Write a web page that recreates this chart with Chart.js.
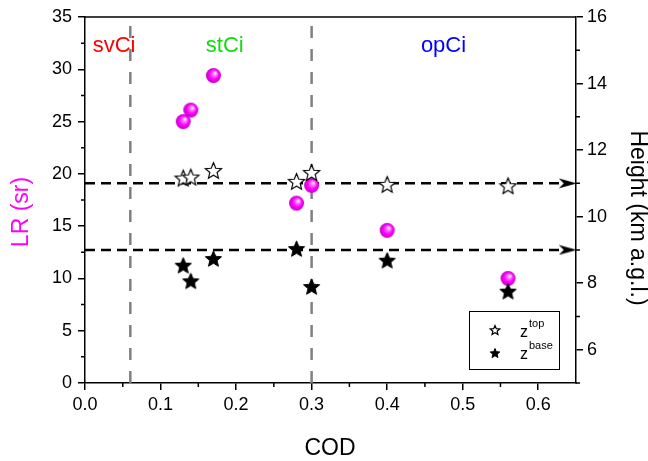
<!DOCTYPE html>
<html>
<head>
<meta charset="utf-8">
<script src="https://cdn.jsdelivr.net/npm/chart.js@4/dist/chart.umd.min.js"></script>
<style>
  body { margin: 0; background: #fff; }
  #wrap { width: 648px; height: 461px; }
</style>
</head>
<body>
<div id="wrap"><canvas id="chart"></canvas></div>
<script>
// Data
const codLR = [0.13, 0.14, 0.17, 0.28, 0.30, 0.40, 0.56];
const lrValues = [25.0, 26.1, 29.4, 17.2, 18.9, 14.6, 10.0];

const codTop = [0.13, 0.14, 0.17, 0.28, 0.30, 0.40, 0.56];
const zTop = [11.16, 11.19, 11.39, 11.06, 11.33, 10.97, 10.93];

const codBase = [0.13, 0.14, 0.17, 0.28, 0.30, 0.40, 0.56];
const zBase = [8.54, 8.07, 8.74, 9.04, 7.90, 8.69, 7.76];

// mean heights (dashed arrows) and class borders (grey dashes)
const meanHeights = [11.0, 9.0];
const classBorders = [0.06, 0.30];
const regionNames = ['svCi', 'stCi', 'opCi'];
const regionColors = ['#ff0000', '#11dd11', '#0000ff'];

// tick values
const xTicks = [0, 0.1, 0.2, 0.3, 0.4, 0.5, 0.6];
const xMinor = [0.05, 0.15, 0.25, 0.35, 0.45, 0.55];
const yTicks = [0, 5, 10, 15, 20, 25, 30, 35];
const yMinor = [2.5, 7.5, 12.5, 17.5, 22.5, 27.5, 32.5];
const y2Ticks = [6, 8, 10, 12, 14, 16];
const y2Minor = [5, 7, 9, 11, 13, 15];

const FONT = "'Liberation Sans', Arial, sans-serif";

// marker images
function makeCanvas(w, h) {
    const c = document.createElement('canvas');
    c.width = w; c.height = h;
    return c;
}
function starPath(ctx, cx, cy, R, r) {
    ctx.beginPath();
    for (let i = 0; i < 10; i++) {
        const a = -Math.PI / 2 + i * Math.PI / 5;
        const rad = i % 2 == 0 ? R : r;
        const px = cx + rad * Math.cos(a), py = cy + rad * Math.sin(a);
        if (i == 0) ctx.moveTo(px, py); else ctx.lineTo(px, py);
    }
    ctx.closePath();
}
function starImage(R, filled, lw) {
    const s = Math.ceil(R * 2 + 4);
    const c = makeCanvas(s, s);
    const ctx = c.getContext('2d');
    starPath(ctx, s / 2, s / 2 + R * 0.1, R, R * 0.45);
    ctx.fillStyle = filled ? '#000' : '#fff';
    ctx.fill();
    ctx.lineWidth = lw;
    ctx.lineJoin = 'miter';
    ctx.strokeStyle = '#000';
    ctx.stroke();
    return c;
}
function sphereImage(r) {
    const s = Math.ceil(r * 2 + 2);
    const c = makeCanvas(s, s);
    const ctx = c.getContext('2d');
    const cx = s / 2, cy = s / 2;
    const g = ctx.createRadialGradient(cx + r * 0.25, cy - r * 0.35, 0.5, cx, cy, r);
    g.addColorStop(0, '#fff0ff');
    g.addColorStop(0.25, '#ff70ff');
    g.addColorStop(0.6, '#ff00ff');
    g.addColorStop(1, '#c400c4');
    ctx.fillStyle = g;
    ctx.beginPath();
    ctx.arc(cx, cy, r, 0, Math.PI * 2);
    ctx.fill();
    return c;
}
function arrowImage() {
    const c = makeCanvas(18, 11);
    const ctx = c.getContext('2d');
    ctx.fillStyle = '#000';
    ctx.beginPath();
    ctx.moveTo(18, 5.5);
    ctx.lineTo(0, 0.5);
    ctx.lineTo(5, 5.5);
    ctx.lineTo(0, 10.5);
    ctx.closePath();
    ctx.fill();
    return c;
}
const openStar = starImage(8.5, false, 1.2);
const fullStar = starImage(8.5, true, 1);
const smallOpen = starImage(5, false, 1.2);
const smallFull = starImage(5, true, 1);
const ball = sphereImage(7.5);
const arrow = arrowImage();

function pts(xs, ys) {
    return xs.map((x, i) => ({ x: x, y: ys[i] }));
}

const datasets = [
    { label: 'zbase', data: pts(codBase, zBase), yAxisID: 'y2', pointStyle: fullStar, pointRadius: 8 },
    { label: 'ztop', data: pts(codTop, zTop), yAxisID: 'y2', pointStyle: openStar, pointRadius: 8 },
    { label: 'LR', data: pts(codLR, lrValues), yAxisID: 'y', pointStyle: ball, pointRadius: 8 }
];
meanHeights.forEach(h => {
    datasets.push({
        data: [{ x: 0, y: h }, { x: 0.639, y: h }], yAxisID: 'y2', showLine: true,
        borderColor: '#000', borderWidth: 2.5, borderDash: [10, 6],
        pointStyle: arrow, pointRadius: [0, 6]
    });
});
classBorders.forEach(c => {
    datasets.push({
        data: [{ x: c, y: 0 }, { x: c, y: 35 }], yAxisID: 'y', showLine: true,
        borderColor: '#808080', borderWidth: 2.5, borderDash: [12, 11], pointRadius: 0
    });
});

// labels, titles, legend, minor ticks and top border
const extras = {
    id: 'extras',
    afterDraw(chart) {
        const ctx = chart.ctx;
        const a = chart.chartArea;
        const sx = chart.scales.x, sy = chart.scales.y, sy2 = chart.scales.y2;
        ctx.save();
        ctx.strokeStyle = '#000';
        ctx.lineWidth = 1.5;
        // top border
        ctx.beginPath();
        ctx.moveTo(a.left, a.top);
        ctx.lineTo(a.right, a.top);
        ctx.stroke();
        // minor ticks
        ctx.beginPath();
        xMinor.forEach(v => { const p = sx.getPixelForValue(v); ctx.moveTo(p, a.bottom); ctx.lineTo(p, a.bottom + 4); });
        yMinor.forEach(v => { const p = sy.getPixelForValue(v); ctx.moveTo(a.left, p); ctx.lineTo(a.left - 4, p); });
        y2Minor.forEach(v => { const p = sy2.getPixelForValue(v); ctx.moveTo(a.right, p); ctx.lineTo(a.right + 4, p); });
        ctx.stroke();

        // region names
        const regionX = [0.0385, 0.185, 0.4746];
        ctx.font = '22px ' + FONT;
        ctx.textAlign = 'center';
        ctx.textBaseline = 'alphabetic';
        regionNames.forEach((n, i) => {
            ctx.fillStyle = regionColors[i];
            ctx.fillText(n, sx.getPixelForValue(regionX[i]), sy.getPixelForValue(31.65));
        });

        // axis titles
        ctx.font = '23px ' + FONT;
        ctx.textBaseline = 'middle';
        ctx.fillStyle = '#000';
        ctx.fillText('COD', 330, 449);
        ctx.save();
        ctx.translate(22, 212);
        ctx.rotate(-Math.PI / 2);
        ctx.fillStyle = '#ff00ff';
        ctx.fillText('LR (sr)', 0, 0);
        ctx.restore();
        ctx.save();
        ctx.translate(637, 218);
        ctx.rotate(Math.PI / 2);
        ctx.fillStyle = '#000';
        ctx.fillText('Height (km a.g.l.)', 0, 0);
        ctx.restore();

        // legend box
        ctx.lineWidth = 1;
        ctx.strokeRect(469.5, 311.5, 90, 58);
        ctx.drawImage(smallOpen, 495 - smallOpen.width / 2, 330 - smallOpen.height / 2);
        ctx.drawImage(smallFull, 495 - smallFull.width / 2, 353 - smallFull.height / 2);
        ctx.textAlign = 'left';
        ctx.textBaseline = 'alphabetic';
        ctx.fillStyle = '#000';
        ctx.font = '16px ' + FONT;
        ctx.fillText('z', 520, 337);
        ctx.fillText('z', 520, 359);
        ctx.font = '11px ' + FONT;
        ctx.fillText('top', 529, 327);
        ctx.fillText('base', 529, 349);
        ctx.restore();
    }
};

function setTicks(list) {
    return function (scale) { scale.ticks = list.map(v => ({ value: v })); };
}

new Chart(document.getElementById('chart').getContext('2d'), {
    type: 'scatter',
    data: { datasets: datasets },
    options: {
        responsive: true,
        maintainAspectRatio: false,
        animation: false,
        events: [],
        layout: { padding: { top: 17, left: 0, right: 0, bottom: 0 } },
        plugins: { legend: { display: false }, tooltip: { enabled: false } },
        scales: {
            x: {
                type: 'linear', position: 'bottom', min: 0, max: 0.65,
                afterBuildTicks: setTicks(xTicks),
                afterFit: s => { s.height = 78; },
                grid: { drawOnChartArea: false, tickLength: 7, color: '#000', lineWidth: 1.5 },
                border: { color: '#000', width: 1.5 },
                ticks: { padding: 4, maxRotation: 0, color: '#000', font: { family: FONT, size: 18 },
                    callback: v => v.toFixed(1) }
            },
            y: {
                type: 'linear', position: 'left', min: 0, max: 35,
                afterBuildTicks: setTicks(yTicks),
                afterFit: s => { s.width = 85; },
                grid: { drawOnChartArea: false, tickLength: 7, color: '#000', lineWidth: 1.5 },
                border: { color: '#000', width: 1.5 },
                ticks: { padding: 6, color: '#000', font: { family: FONT, size: 18 } }
            },
            y2: {
                type: 'linear', position: 'right', min: 5, max: 16,
                afterBuildTicks: setTicks(y2Ticks),
                afterFit: s => { s.width = 72; },
                grid: { drawOnChartArea: false, tickLength: 7, color: '#000', lineWidth: 1.5 },
                border: { color: '#000', width: 1.5 },
                ticks: { padding: 4, color: '#000', font: { family: FONT, size: 18 } }
            }
        }
    },
    plugins: [extras]
});
</script>
</body>
</html>
